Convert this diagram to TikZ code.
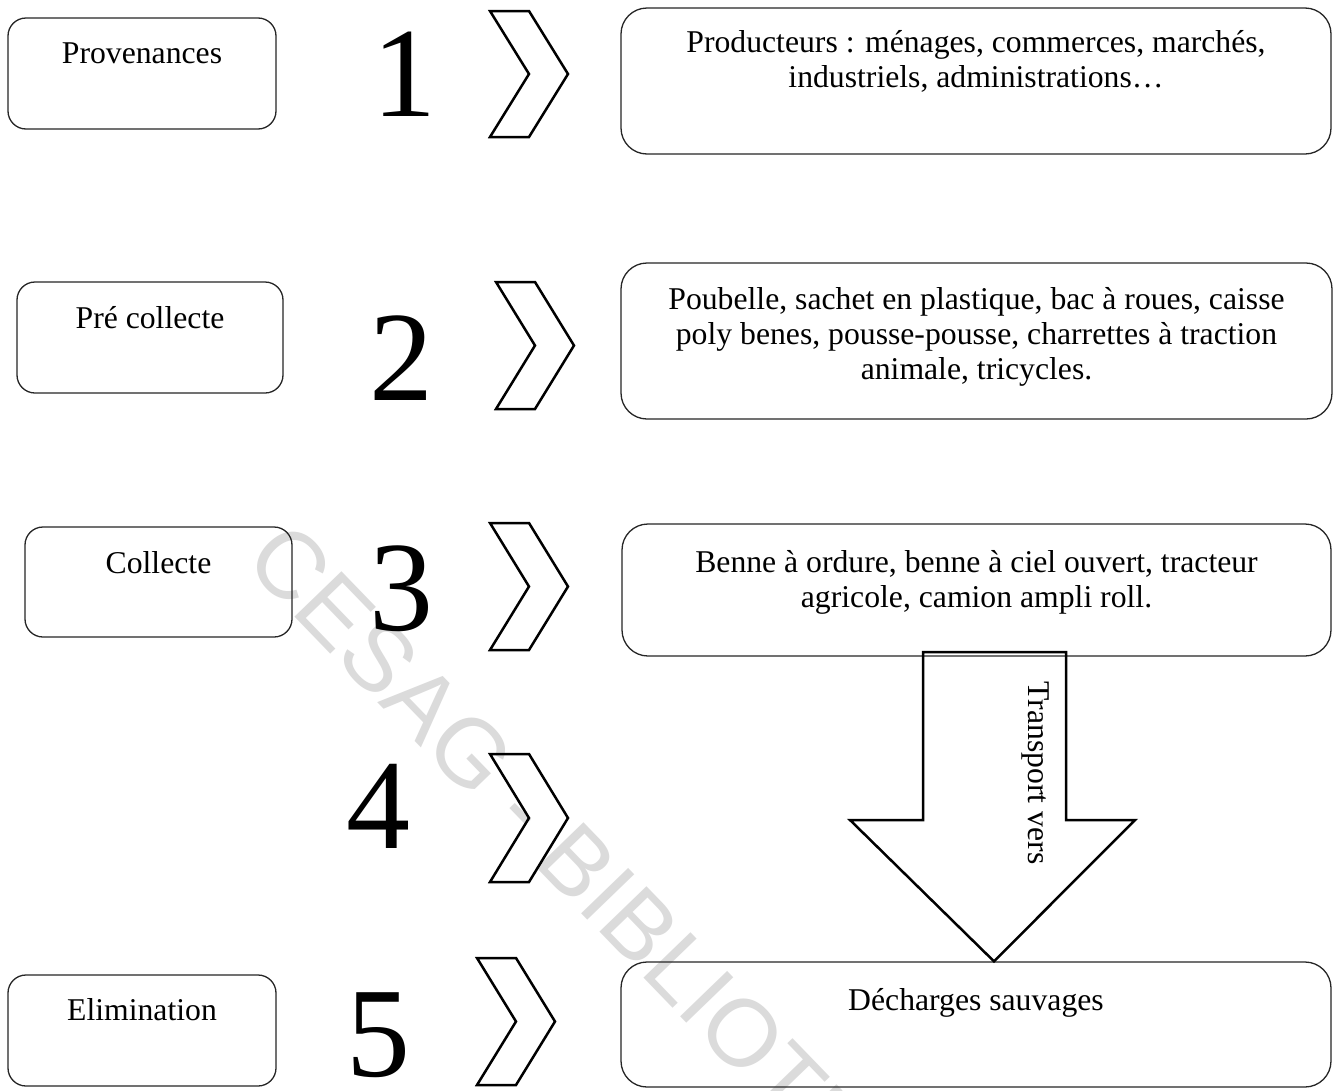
\documentclass[tikz,border=0pt]{standalone}
\usepackage{fontspec}
\setmainfont{Liberation Serif}
\newfontfamily\wmfont{Liberation Sans}
\newcommand\chevshape[3]{\draw[chev] (#1,#2) -- (#1+39,#2) -- (#1+78,{(#2+#3)/2}) -- (#1+39,#3) -- (#1,#3) -- (#1+39,{(#2+#3)/2}) -- cycle;}
\begin{document}
\begin{tikzpicture}[x=1pt,y=-1pt,
  lbox/.style={draw=black!85, line width=1.3pt, rounded corners=18pt, inner sep=0pt},
  rbox/.style={draw=black!85, line width=1.3pt, rounded corners=26pt, inner sep=0pt},
  lbl/.style={font=\fontsize{31.7}{35}\selectfont, align=center, inner sep=0pt, anchor=north},
  num/.style={font=\fontsize{128}{128}\selectfont, inner sep=0pt, anchor=base},
  chev/.style={draw=black, line width=2.5pt, line join=miter},
  wm/.style={font=\wmfont\fontsize{95}{95}\selectfont, text=black!14, inner sep=0pt}]
\useasboundingbox (0,0) rectangle (1339,1090);
\fill[white] (0,0) rectangle (1339,1090);
% watermark
\begin{scope}
\clip (0,0) rectangle (1339,1090);
\node[wm, anchor=base west, rotate=-46] (wmark) at (242,562) {CESAG - BIBLIOTHE};
\end{scope}
% left boxes
\node[lbox, minimum width=268pt, minimum height=111pt] (prov) at (142,73.5) {};
\node[lbox, minimum width=266pt, minimum height=111pt] (prec) at (150,337.5) {};
\node[lbox, minimum width=267pt, minimum height=110pt] (coll) at (158.5,582) {};
\node[lbox, minimum width=268pt, minimum height=111pt] (elim) at (142,1030.5) {};
\node[lbl] (provT) at ([yshift=-21.5pt]prov.north) {\strut Provenances};
\node[lbl] (precT) at ([yshift=-22pt]prec.north) {\strut Pré collecte};
\node[lbl] (collT) at ([yshift=-22pt]coll.north) {\strut Collecte};
\node[lbl] (elimT) at ([yshift=-21.5pt]elim.north) {\strut Elimination};
% numbers
\node[num] (n1) at (404,116) {1};
\node[num] (n2) at (401,400) {2};
\node[num] (n3) at (401,630) {3};
\node[num] (n4) at (378,848) {4};
\node[num] (n5) at (378,1076) {5};
% chevrons
\chevshape{490}{11}{137}
\chevshape{496}{282}{409}
\chevshape{490}{523}{650}
\chevshape{490}{754}{882}
\chevshape{477}{958}{1085}
% right boxes
\node[rbox, minimum width=710pt, minimum height=146pt] (prod) at (976,81) {};
\node[rbox, minimum width=711pt, minimum height=156pt] (poub) at (976.5,341) {};
\node[rbox, minimum width=709pt, minimum height=132pt] (benne) at (976.5,590) {};
\node[rbox, minimum width=710pt, minimum height=125pt] (dech) at (976,1024.5) {};
\node[lbl] (prodT) at ([yshift=-20pt]prod.north) {\strut Producteurs : ménages, commerces, marchés,\\ industriels, administrations…};
\node[lbl] (poubT) at ([yshift=-22pt]poub.north) {\strut Poubelle, sachet en plastique, bac à roues, caisse\\ poly benes, pousse-pousse, charrettes à traction\\ animale, tricycles.};
\node[lbl] (benneT) at ([yshift=-24.5pt]benne.north) {\strut Benne à ordure, benne à ciel ouvert, tracteur\\ agricole, camion ampli roll.};
\node[lbl] (dechT) at ([yshift=-24pt]dech.north) {\strut Décharges sauvages};
% block arrow
\draw[chev] (923,652) -- (1066,652) -- (1066,820) -- (1135,820) -- (dech.north -| 994,0) -- (850,820) -- (923,820) -- cycle;
\node[font=\fontsize{31.7}{35}\selectfont, inner sep=0pt, rotate=-90] (trans) at (1035,773) {Transport vers};
\end{tikzpicture}
\end{document}
